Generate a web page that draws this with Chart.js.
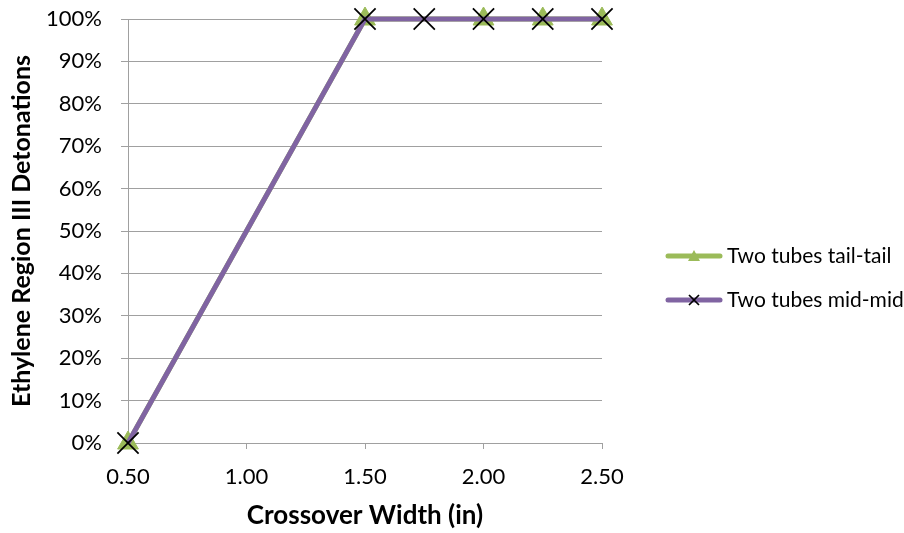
<!DOCTYPE html>
<html>
<head>
<meta charset="utf-8">
<script src="https://cdn.jsdelivr.net/npm/chart.js@4/dist/chart.umd.min.js"></script>
<style>
  html, body { margin: 0; padding: 0; background: #fff; }
  #wrap { width: 904px; height: 533px; }
</style>
</head>
<body>
<div id="wrap"><canvas id="grafico"></canvas></div>
<script>
// dados
const xTail = [0.5, 1.5, 2.0, 2.25, 2.5]
const yTail = [0, 1, 1, 1, 1]
const xMid = [0.5, 1.5, 1.75, 2.0, 2.25, 2.5]
const yMid = [0, 1, 1, 1, 1, 1]
const nomes = ['Two tubes tail-tail', 'Two tubes mid-mid']
const xTicks = [0.5, 1.0, 1.5, 2.0, 2.5]

const verde = '#9BBB59'
const roxo = '#8064A2'
const cinza = '#a0a0a0'
const fonte = 'Lato, "Open Sans", sans-serif'

function pares(xs, ys) {
    return xs.map((x, i) => ({ x: x, y: ys[i] }))
}

// legenda desenhada à mão (linha + marcador no meio)
const legendaPlugin = {
    id: 'legendaLinha',
    afterDraw(chart) {
        const ctx = chart.ctx
        const x0 = chart.chartArea.right + 66
        const ys = [256, 300]
        chart.data.datasets.forEach((ds, i) => {
            const y = ys[i]
            ctx.save()
            ctx.strokeStyle = ds.borderColor
            ctx.lineWidth = 5
            ctx.lineCap = 'round'
            ctx.beginPath()
            ctx.moveTo(x0, y)
            ctx.lineTo(x0 + 52, y)
            ctx.stroke()
            const cx = x0 + 26
            if (ds.pointStyle === 'triangle') {
                ctx.fillStyle = ds.pointBackgroundColor
                ctx.beginPath()
                ctx.moveTo(cx, y - 6)
                ctx.lineTo(cx + 6, y + 5)
                ctx.lineTo(cx - 6, y + 5)
                ctx.closePath()
                ctx.fill()
            } else {
                ctx.strokeStyle = '#000'
                ctx.lineWidth = 1.75
                ctx.lineCap = 'butt'
                ctx.beginPath()
                ctx.moveTo(cx - 5, y - 5); ctx.lineTo(cx + 5, y + 5)
                ctx.moveTo(cx + 5, y - 5); ctx.lineTo(cx - 5, y + 5)
                ctx.stroke()
            }
            ctx.fillStyle = '#000'
            ctx.font = '21px ' + fonte
            ctx.textBaseline = 'middle'
            ctx.fillText(ds.label, x0 + 59, y)
            ctx.restore()
        })
    }
}

new Chart(document.getElementById('grafico'), {
    type: 'line',
    data: {
        datasets: [
            {
                label: nomes[0],
                data: pares(xTail, yTail),
                borderColor: verde,
                borderWidth: 5,
                pointStyle: 'triangle',
                pointRadius: 12,
                pointBackgroundColor: verde,
                pointBorderColor: verde,
                pointBorderWidth: 1,
                clip: false,
                order: 2
            },
            {
                label: nomes[1],
                data: pares(xMid, yMid),
                borderColor: roxo,
                borderWidth: 5,
                pointStyle: 'crossRot',
                pointRadius: 15,
                pointBackgroundColor: '#000',
                pointBorderColor: '#000',
                pointBorderWidth: 1.75,
                clip: false,
                order: 1
            }
        ]
    },
    options: {
        responsive: true,
        maintainAspectRatio: false,
        animation: false,
        layout: { padding: { top: 19, right: 302, bottom: 2, left: 7 } },
        plugins: {
            legend: { display: false },
            tooltip: { enabled: false }
        },
        scales: {
            x: {
                type: 'linear',
                min: 0.5,
                max: 2.5,
                afterBuildTicks(axis) { axis.ticks = xTicks.map(v => ({ value: v })) },
                afterFit(scale) {
                    scale.height = 88
                    scale.paddingLeft = 0
                    scale.paddingRight = 0
                },
                grid: { drawOnChartArea: false, drawTicks: true, tickLength: 6, color: cinza },
                border: { display: true, color: cinza, width: 1 },
                ticks: {
                    color: '#000',
                    font: { family: fonte, size: 22 },
                    padding: 15,
                    maxRotation: 0,
                    callback: v => Number(v).toFixed(2)
                },
                title: {
                    display: true,
                    text: 'Crossover Width (in)',
                    color: '#000',
                    font: { family: fonte, size: 26, weight: 'bold' },
                    padding: { top: 11, bottom: 0 }
                }
            },
            y: {
                min: 0,
                max: 1,
                afterFit(scale) {
                    scale.width = 121
                    scale.paddingTop = 0
                    scale.paddingBottom = 0
                },
                ticks: {
                    stepSize: 0.1,
                    color: '#000',
                    font: { family: fonte, size: 22 },
                    padding: 19,
                    callback: v => Math.round(v * 100) + '%'
                },
                grid: { color: cinza, tickLength: 7, lineWidth: 1 },
                border: { display: true, color: cinza, width: 1 },
                title: {
                    display: true,
                    text: 'Ethylene Region III Detonations',
                    color: '#000',
                    font: { family: fonte, size: 25, weight: 'bold' },
                    padding: { top: 0, bottom: 8 }
                }
            }
        }
    },
    plugins: [legendaPlugin]
})
</script>
</body>
</html>
